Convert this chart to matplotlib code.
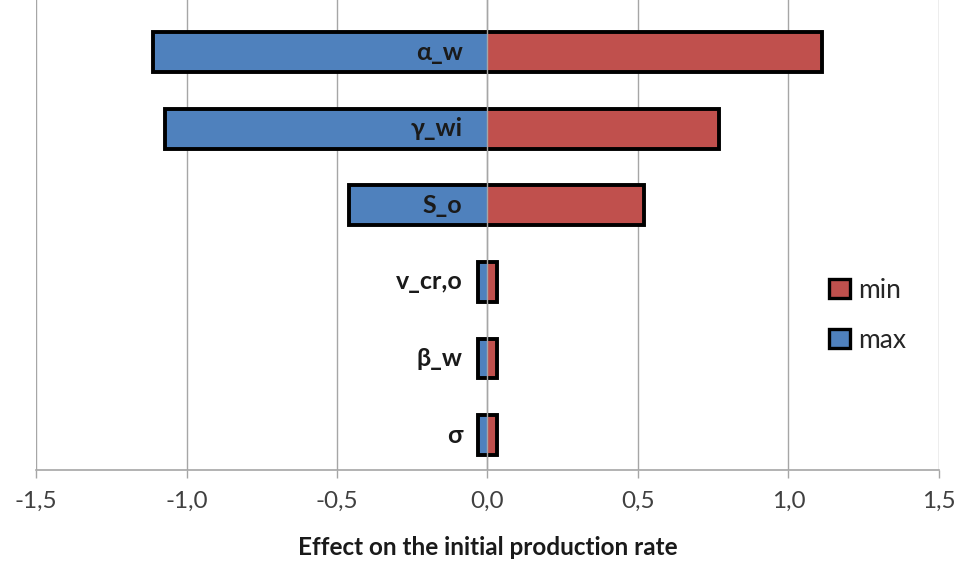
import matplotlib
matplotlib.use("Agg")
import matplotlib.pyplot as plt
from matplotlib.patches import Patch
from matplotlib.ticker import FuncFormatter

# parameters, bottom to top
params = ["σ", "β_w", "v_cr,o", "S_o", "γ_wi", "α_w"]
eff_max = [-0.03, -0.03, -0.03, -0.46, -1.07, -1.11]   # blue, left side
eff_min = [0.03, 0.03, 0.03, 0.52, 0.77, 1.11]         # red, right side

RED = "#C0504D"
BLUE = "#4F81BD"
GRID = "#A6A6A6"

plt.rcParams["font.family"] = ["Lato", "DejaVu Sans"]

fig = plt.figure(figsize=(9.68, 5.63), dpi=100)
ax = fig.add_axes([0.0372, 0.165, 0.9328, 0.835])

ypos = list(range(len(params)))
h = 0.52

ax.barh(ypos, eff_max, height=h, color=BLUE, zorder=2)
ax.barh(ypos, eff_min, height=h, color=RED, zorder=2)
# black outline around each whole bar
widths = [hi - lo for lo, hi in zip(eff_max, eff_min)]
ax.barh(ypos, widths, left=eff_max, height=h, fill=False,
        edgecolor="black", linewidth=2.8, zorder=3)

ax.set_xlim(-1.5, 1.5)
ax.set_ylim(-0.457, 5.68)
ax.set_xticks([-1.5, -1.0, -0.5, 0.0, 0.5, 1.0, 1.5])
ax.xaxis.set_major_formatter(FuncFormatter(lambda v, p: f"{v:.1f}".replace(".", ",")))
ax.grid(axis="x", color=GRID, linewidth=1.0, zorder=0)
ax.axvline(0, color=GRID, linewidth=1.0, zorder=4)
ax.set_yticks([])

for s in ["left", "right", "top"]:
    ax.spines[s].set_visible(False)
ax.spines["bottom"].set_color(GRID)
ax.spines["bottom"].set_linewidth(1.2)
ax.tick_params(axis="x", direction="out", length=6, width=1.0, color=GRID,
               labelsize=17.5, labelcolor="#404040", pad=9)

# parameter names sit at a fixed spot left of the zero line
for y, name in zip(ypos, params):
    ax.text(-0.083, y, name, ha="right", va="center", fontsize=18,
            fontweight="bold", color="#1a1a1a", zorder=5)

ax.set_xlabel("Effect on the initial production rate", fontsize=17.5,
              fontweight="bold", color="#1a1a1a", labelpad=17)

handles = [Patch(facecolor=RED, edgecolor="black", linewidth=2.4, label="min"),
           Patch(facecolor=BLUE, edgecolor="black", linewidth=2.4, label="max")]
ax.legend(handles=handles, loc="center left", bbox_to_anchor=(0.852, 0.329),
          frameon=False, fontsize=19, labelspacing=0.95, handlelength=0.8,
          handleheight=0.75, handletextpad=0.3, labelcolor="#262626")

fig.savefig("out.png", dpi=100, facecolor="white")
